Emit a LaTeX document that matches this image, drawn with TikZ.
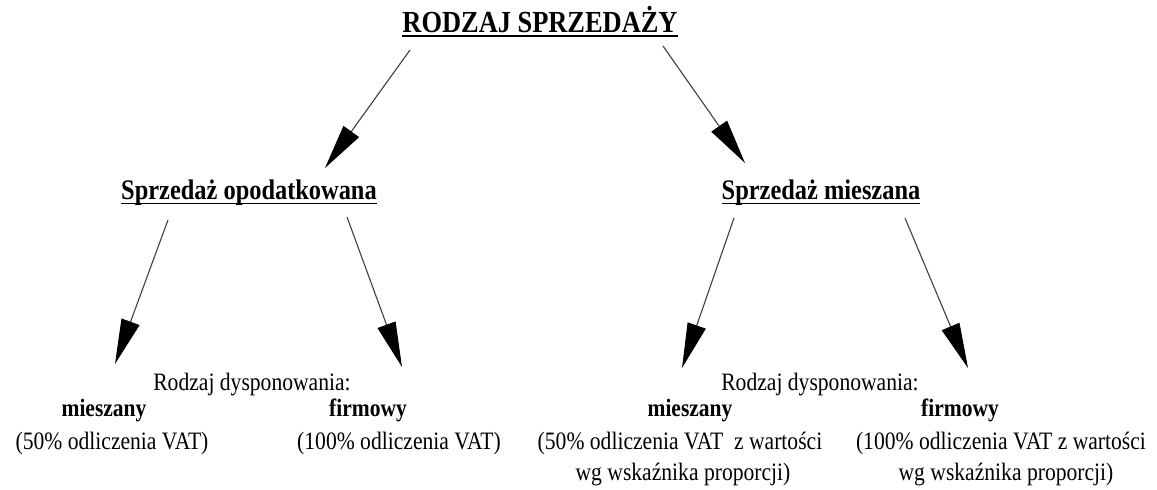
\documentclass[tikz,border=0pt]{standalone}
\usepackage{fontspec}
\setmainfont{Liberation Serif}
\usetikzlibrary{arrows.meta}
\newcommand\tallbox[1]{\scalebox{1}[1.16]{#1}}
\begin{document}
\begin{tikzpicture}[x=1pt,y=-1pt,
  lbl/.style={inner sep=0pt,anchor=base,text=black},
  titlef/.style={lbl,font=\fontsize{26.4}{30}\selectfont\bfseries},
  secf/.style={lbl,font=\fontsize{24.4}{28}\selectfont\bfseries},
  kindf/.style={lbl,font=\fontsize{21.5}{26}\selectfont\bfseries},
  txtf/.style={lbl,font=\fontsize{21.6}{26}\selectfont},
  uline/.style={line width=1.8pt,black},
  arr/.style={line width=1.1pt,draw=black!75,-{Triangle[length=45pt,width=19pt,color=black]}}]
\useasboundingbox (0,0) rectangle (1157,490);
\fill[white] (0,0) rectangle (1157,490);

% titles
\node[titlef] (root) at (540,32) {\tallbox{RODZAJ SPRZEDAŻY}};
\draw[uline] ([yshift=-4pt]root.base west) -- ([yshift=-4pt]root.base east);
\node[secf] (opod) at (249,199) {\tallbox{Sprzedaż opodatkowana}};
\draw[uline,line width=1.5pt] ([yshift=-4.5pt]opod.base west) -- ([yshift=-4.5pt]opod.base east);
\node[secf] (mies) at (821,199) {\tallbox{Sprzedaż mieszana}};
\draw[uline,line width=1.5pt] ([yshift=-4.5pt]mies.base west) -- ([yshift=-4.5pt]mies.base east);

% lower texts
\node[txtf] (rdl) at (252,390) {\tallbox{Rodzaj dysponowania:}};
\node[txtf] (rdr) at (820,390) {\tallbox{Rodzaj dysponowania:}};
\node[kindf] (m1) at (104,416) {\tallbox{mieszany}};
\node[kindf] (f1) at (368,416) {\tallbox{firmowy}};
\node[txtf] (m1t) at (112,449) {\tallbox{(50\% odliczenia VAT)}};
\node[txtf] (f1t) at (399,449) {\tallbox{(100\% odliczenia VAT)}};
\node[kindf] (m2) at (690,416) {\tallbox{mieszany}};
\node[kindf] (f2) at (960,416) {\tallbox{firmowy}};
\node[txtf] (m2t) at (680,449) {\tallbox{(50\% odliczenia VAT\ \ z wartości}};
\node[txtf] (m2u) at (683,480) {\tallbox{wg wskaźnika proporcji)}};
\node[txtf] (f2t) at (1001,449) {\tallbox{(100\% odliczenia VAT z wartości}};
\node[txtf] (f2u) at (1006,480) {\tallbox{wg wskaźnika proporcji)}};

% arrow end points
\coordinate (a1s) at (410,50);  \coordinate (a1e) at (325,168);
\coordinate (a2s) at (663,46);  \coordinate (a2e) at (745,163);
\coordinate (b1s) at (168,220); \coordinate (b1e) at (115,364);
\coordinate (b2s) at (347,217); \coordinate (b2e) at (402,367);
\coordinate (c1s) at (734,218); \coordinate (c1e) at (682,368);
\coordinate (c2s) at (905,218); \coordinate (c2e) at (968,368);

\draw[arr] (a1s) -- (a1e);
\draw[arr] (a2s) -- (a2e);
\draw[arr] (b1s) -- (b1e);
\draw[arr] (b2s) -- (b2e);
\draw[arr] (c1s) -- (c1e);
\draw[arr] (c2s) -- (c2e);
\end{tikzpicture}
\end{document}
